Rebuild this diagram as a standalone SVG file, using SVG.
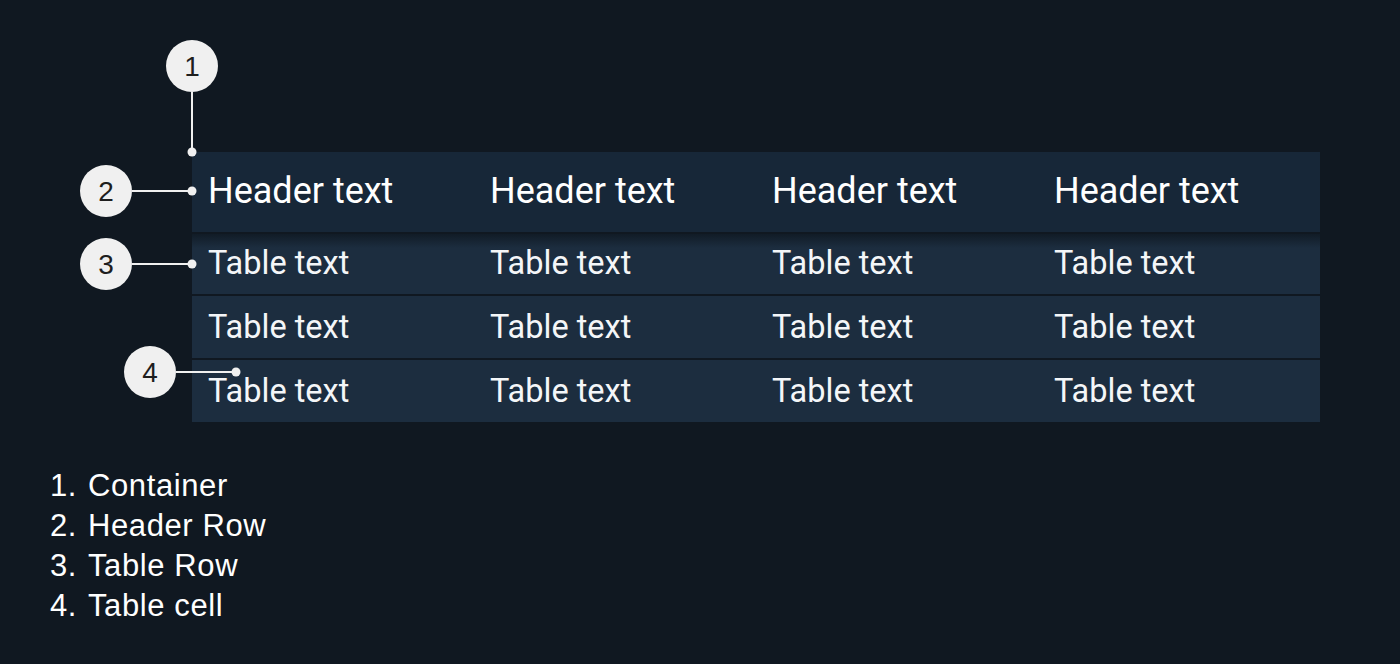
<svg xmlns="http://www.w3.org/2000/svg" width="1400" height="664" viewBox="0 0 1400 664">
<style>
.hdr{font-family:Roboto,"Noto Sans",sans-serif;font-size:36px;fill:#ffffff}
.cell{font-family:Roboto,"Noto Sans",sans-serif;font-size:32.5px;fill:#f4f6f8}
.num{font-family:"Liberation Sans",Arial,sans-serif;font-size:28px;fill:#1e1e1e;text-anchor:middle}
.leg{font-family:"Liberation Sans",Arial,sans-serif;font-size:31px;fill:#ffffff;letter-spacing:0.6px}
.bub{fill:#f0f0f0}
.ln{stroke:#f0f0f0;stroke-width:2;fill:none}
.dot{fill:#f0f0f0}
</style>
<defs>
<linearGradient id="sh" x1="0" y1="0" x2="0" y2="1">
<stop offset="0" stop-color="#0c141c" stop-opacity="0.7"/>
<stop offset="1" stop-color="#0c141c" stop-opacity="0"/>
</linearGradient>
</defs>
<rect width="1400" height="664" fill="#101821"/>
<g id="container">
<rect x="192" y="152" width="1128" height="270" fill="#101821"/>
</g>
<g id="header-row">
<rect x="192" y="152" width="1128" height="80" fill="#172738"/>
<text class="hdr" x="208" y="203">Header text</text>
<text class="hdr" x="490" y="203">Header text</text>
<text class="hdr" x="772" y="203">Header text</text>
<text class="hdr" x="1054" y="203">Header text</text>
</g>
<g id="row-1">
<rect x="192" y="234" width="1128" height="60" fill="#1c2d3f"/>
<rect x="192" y="234" width="1128" height="14" fill="url(#sh)"/>
<text class="cell" x="208" y="274">Table text</text>
<text class="cell" x="490" y="274">Table text</text>
<text class="cell" x="772" y="274">Table text</text>
<text class="cell" x="1054" y="274">Table text</text>
</g>
<g id="row-2">
<rect x="192" y="296" width="1128" height="62" fill="#1c2d3f"/>
<text class="cell" x="208" y="338">Table text</text>
<text class="cell" x="490" y="338">Table text</text>
<text class="cell" x="772" y="338">Table text</text>
<text class="cell" x="1054" y="338">Table text</text>
</g>
<g id="row-3">
<rect x="192" y="360" width="1128" height="62" fill="#1c2d3f"/>
<text class="cell" x="208" y="402">Table text</text>
<text class="cell" x="490" y="402">Table text</text>
<text class="cell" x="772" y="402">Table text</text>
<text class="cell" x="1054" y="402">Table text</text>
</g>
<g id="connectors">
<line class="ln" x1="192" y1="92" x2="192" y2="152"/>
<circle class="dot" cx="192" cy="152" r="4.5"/>
<line class="ln" x1="132" y1="191" x2="192" y2="191"/>
<circle class="dot" cx="192" cy="191" r="4.5"/>
<line class="ln" x1="132" y1="264" x2="192" y2="264"/>
<circle class="dot" cx="192" cy="264" r="4.5"/>
<line class="ln" x1="176" y1="372" x2="236" y2="372"/>
<circle class="dot" cx="236" cy="372" r="4.5"/>
</g>
<g id="callout-1"><circle class="bub" cx="192" cy="66" r="26"/><text class="num" x="192" y="76">1</text></g>
<g id="callout-2"><circle class="bub" cx="106" cy="191" r="26"/><text class="num" x="106" y="201">2</text></g>
<g id="callout-3"><circle class="bub" cx="106" cy="264" r="26"/><text class="num" x="106" y="274">3</text></g>
<g id="callout-4"><circle class="bub" cx="150" cy="372" r="26"/><text class="num" x="150" y="382">4</text></g>
<g id="legend">
<text class="leg" x="50" y="496">1.<tspan x="88">Container</tspan></text>
<text class="leg" x="50" y="536">2.<tspan x="88">Header Row</tspan></text>
<text class="leg" x="50" y="576">3.<tspan x="88">Table Row</tspan></text>
<text class="leg" x="50" y="616">4.<tspan x="88">Table cell</tspan></text>
</g>
</svg>
